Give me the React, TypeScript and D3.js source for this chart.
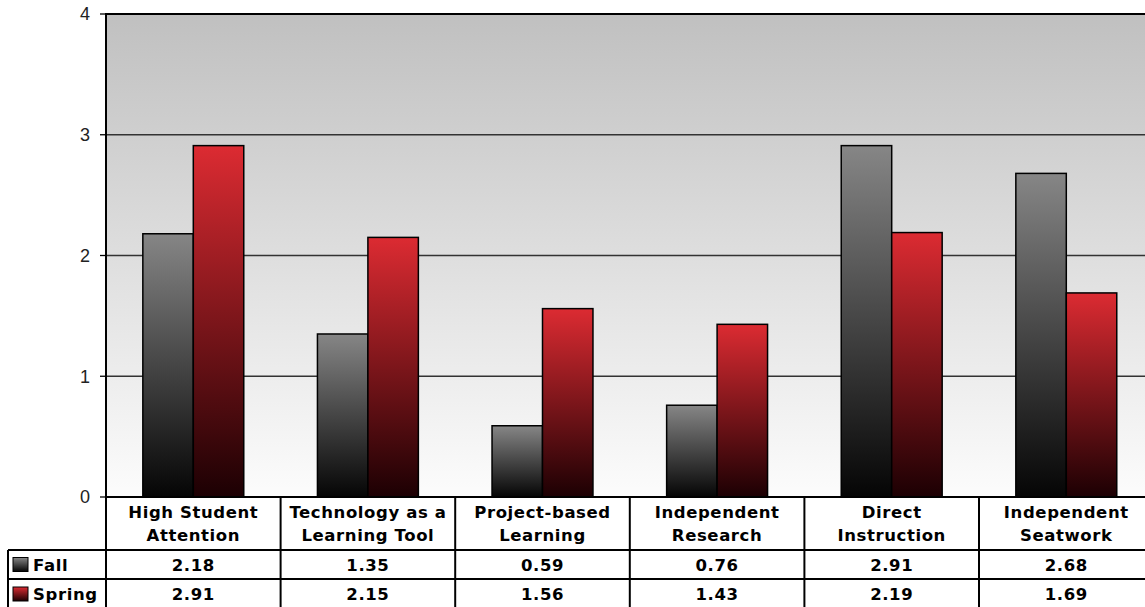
import React from "react";
import * as d3 from "d3";

const categories: string[][] = [
  ["High Student", "Attention"],
  ["Technology as a", "Learning Tool"],
  ["Project-based", "Learning"],
  ["Independent", "Research"],
  ["Direct", "Instruction"],
  ["Independent", "Seatwork"],
];
const seriesNames = ["Fall", "Spring"];
const fallValues = [2.18, 1.35, 0.59, 0.76, 2.91, 2.68];
const springValues = [2.91, 2.15, 1.56, 1.43, 2.19, 1.69];
const yTicks = [0, 1, 2, 3, 4];

const W = 1145;
const H = 607;
const plotLeft = 106;
const plotTop = 14;
const plotBottom = 497;
const catWidth = 174.6;
const plotRight = plotLeft + catWidth * 6;
const tableLeft = 8;
const rowFallTop = 550;
const rowSpringTop = 579;
const rowSpringBottom = 609;

const FONT = "'DejaVu Sans', Verdana, sans-serif";

export default function App() {
  const series = [fallValues, springValues];
  const y = d3.scaleLinear().domain([0, 4]).range([plotBottom, plotTop]);
  const x0 = d3
    .scaleBand<number>()
    .domain(d3.range(categories.length))
    .range([plotLeft, plotRight])
    .padding(0);
  const x1 = d3
    .scaleBand<string>()
    .domain(seriesNames)
    .range([0, x0.bandwidth()])
    .paddingInner(0)
    .paddingOuter(0.73);

  const gradIds = ["gFall", "gSpring"];
  const rowTops = [rowFallTop, rowSpringTop];
  const rowBottoms = [rowSpringTop, rowSpringBottom];

  return (
    <svg
      width={W}
      height={H}
      style={{ position: "absolute", left: 0, top: 0, background: "#fff" }}
    >
      <defs>
        <linearGradient id="bgGrad" x1="0" y1="0" x2="0" y2="1">
          <stop offset="0" stopColor="#c0c0c0" />
          <stop offset="1" stopColor="#fcfcfc" />
        </linearGradient>
        <linearGradient id="gFall" x1="0" y1="0" x2="0" y2="1">
          <stop offset="0" stopColor="#868686" />
          <stop offset="1" stopColor="#050505" />
        </linearGradient>
        <linearGradient id="gSpring" x1="0" y1="0" x2="0" y2="1">
          <stop offset="0" stopColor="#dc2b32" />
          <stop offset="1" stopColor="#1c0003" />
        </linearGradient>
      </defs>

      {/* plot background */}
      <rect
        x={plotLeft}
        y={plotTop}
        width={plotRight - plotLeft}
        height={plotBottom - plotTop}
        fill="url(#bgGrad)"
      />

      {/* gridlines */}
      {yTicks
        .filter((t) => t > 0 && t < 4)
        .map((t) => (
          <line
            key={t}
            x1={plotLeft}
            x2={plotRight}
            y1={y(t)}
            y2={y(t)}
            stroke="#333"
            strokeWidth={1.4}
          />
        ))}
      <line x1={plotLeft} x2={plotRight} y1={y(4)} y2={y(4)} stroke="#000" strokeWidth={2} />

      {/* bars */}
      {categories.map((_, i) =>
        series.map((vals, s) => {
          const bx = (x0(i) as number) + (x1(seriesNames[s]) as number);
          return (
            <rect
              key={`${i}-${s}`}
              x={bx}
              y={y(vals[i])}
              width={x1.bandwidth()}
              height={y(0) - y(vals[i])}
              fill={`url(#${gradIds[s]})`}
              stroke="#000"
              strokeWidth={1.5}
            />
          );
        })
      )}

      {/* y axis */}
      <line x1={plotLeft} x2={plotLeft} y1={plotTop - 1} y2={plotBottom} stroke="#000" strokeWidth={2} />
      {yTicks.map((t) => (
        <g key={t}>
          <line x1={plotLeft - 6} x2={plotLeft} y1={y(t)} y2={y(t)} stroke="#000" strokeWidth={1.3} />
          <text
            x={90}
            y={y(t)}
            dy="0.36em"
            textAnchor="end"
            fontFamily="'Liberation Sans', Arial, sans-serif"
            fontSize={18}
            fill="#222"
          >
            {t}
          </text>
        </g>
      ))}

      {/* data table */}
      <g fontFamily={FONT} fontWeight="bold" fontSize={16.5} fill="#000">
        <line x1={plotLeft} x2={plotRight} y1={plotBottom} y2={plotBottom} stroke="#000" strokeWidth={2.2} />
        <line x1={tableLeft} x2={plotRight} y1={rowFallTop} y2={rowFallTop} stroke="#000" strokeWidth={2} />
        <line x1={tableLeft} x2={plotRight} y1={rowSpringTop} y2={rowSpringTop} stroke="#000" strokeWidth={2} />
        <line x1={tableLeft} x2={tableLeft} y1={rowFallTop} y2={H} stroke="#000" strokeWidth={2} />
        {d3.range(categories.length + 1).map((i) => {
          const xx = plotLeft + i * catWidth;
          return (
            <line key={i} x1={xx} x2={xx} y1={plotBottom} y2={H} stroke="#000" strokeWidth={2} />
          );
        })}

        {categories.map((lines, i) => {
          const cx = (x0(i) as number) + x0.bandwidth() / 2;
          return (
            <text key={i} x={cx} textAnchor="middle" letterSpacing={0.6}>
              {lines.map((ln, k) => (
                <tspan key={k} x={cx} y={518 + k * 23}>
                  {ln}
                </tspan>
              ))}
            </text>
          );
        })}

        {seriesNames.map((name, s) => {
          const top = rowTops[s];
          const bottom = rowBottoms[s];
          const mid = (top + bottom) / 2;
          return (
            <g key={name}>
              <rect
                x={13}
                y={mid - 7}
                width={15}
                height={14}
                fill={`url(#${gradIds[s]})`}
                stroke="#000"
                strokeWidth={1}
              />
              <text x={33} y={mid} dy="0.38em" letterSpacing={0.6}>
                {name}
              </text>
              {series[s].map((v, i) => (
                <text
                  key={i}
                  x={(x0(i) as number) + x0.bandwidth() / 2}
                  y={mid}
                  dy="0.38em"
                  textAnchor="middle"
                  letterSpacing={0.6}
                >
                  {v.toFixed(2)}
                </text>
              ))}
            </g>
          );
        })}
      </g>
    </svg>
  );
}
